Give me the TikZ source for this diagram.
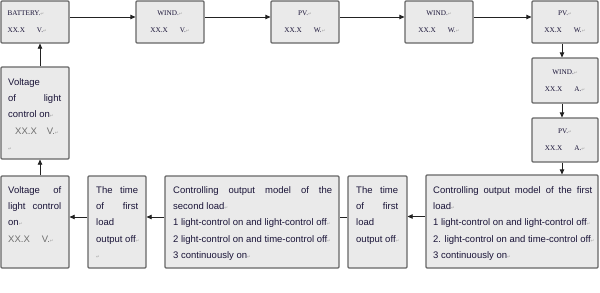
\documentclass[tikz,border=0pt]{standalone}
\usepackage{fontspec}
\setmainfont{Liberation Serif}
\newfontfamily\arialf{Liberation Sans}
\newfontfamily\djv{DejaVu Sans}
\usetikzlibrary{arrows.meta}
\definecolor{boxfill}{HTML}{EAEAEA}
\definecolor{boxline}{HTML}{666666}
\definecolor{txt}{HTML}{1A1438}
\definecolor{gtxt}{HTML}{6E6E6E}
\definecolor{arrc}{HTML}{222222}
\newcommand\retm{{\color{gray!70}\djv\fontsize{4.5}{5}\selectfont ↵}}
\newcommand\jl[2]{\makebox[#1][s]{#2}}
\begin{document}
\begin{tikzpicture}[x=1pt,y=-1pt,
  box/.style={draw=boxline, fill=boxfill, line width=1.2pt, rounded corners=1pt, inner sep=0pt},
  arr/.style={draw=arrc, line width=0.7pt, -{Triangle[length=5pt,width=4.5pt]}},
  lnk/.style={draw=arrc, line width=0.7pt},
  ttxt/.style={font=\fontsize{7.2}{17}\selectfont, text=txt, align=center, inner sep=0pt},
  stxt/.style={font=\arialf\fontsize{9.5}{16.4}\selectfont, text=txt, align=left, inner sep=0pt, anchor=north west}]
\useasboundingbox (0,0) rectangle (600,292);
% boxes
\node[box, minimum width=68pt, minimum height=42pt] (bat) at (35,22) {};
\node[box, minimum width=68pt, minimum height=42pt] (wind1) at (170,22) {};
\node[box, minimum width=68pt, minimum height=42pt] (pv1) at (305,22) {};
\node[box, minimum width=68pt, minimum height=42pt] (wind2) at (439,22) {};
\node[box, minimum width=66pt, minimum height=42pt] (pv2) at (565,22) {};
\node[box, minimum width=66pt, minimum height=45pt] (wind3) at (565,80.5) {};
\node[box, minimum width=66pt, minimum height=44pt] (pv3) at (565,140) {};
\node[box, minimum width=172pt, minimum height=93pt] (load1) at (512,221.5) {};
\node[box, minimum width=59pt, minimum height=92pt] (time1) at (377.5,222) {};
\node[box, minimum width=174pt, minimum height=92pt] (load2) at (252,222) {};
\node[box, minimum width=58pt, minimum height=92pt] (time2) at (117,222) {};
\node[box, minimum width=68pt, minimum height=92pt] (volt2) at (35,222) {};
\node[box, minimum width=68pt, minimum height=92pt] (volt1) at (35,113) {};
% top texts
\node[ttxt, align=left, anchor=west] (tbat) at ([xshift=7pt]bat.west) {BATTERY.\retm\\XX.X\hspace{12pt}V.\retm};
\node[ttxt] (twind1) at (wind1.center) {WIND.\retm\\XX.X\hspace{12pt}V.\retm};
\node[ttxt] (tpv1) at (pv1.center) {PV.\retm\\XX.X\hspace{12pt}W.\retm};
\node[ttxt] (twind2) at (wind2.center) {WIND.\retm\\XX.X\hspace{12pt}W.\retm};
\node[ttxt] (tpv2) at (pv2.center) {PV.\retm\\XX.X\hspace{12pt}W.\retm};
\node[ttxt] (twind3) at (wind3.center) {WIND.\retm\\XX.X\hspace{12pt}A.\retm};
\node[ttxt] (tpv3) at (pv3.center) {PV.\retm\\XX.X\hspace{12pt}A.\retm};
% lower texts
\node[stxt] (tload1) at (433,186) {\jl{159pt}{Controlling output model of the first}\\load\retm\\1 light-control on and light-control off\retm\\2. light-control on and time-control off\retm\\3 continuously on\retm};
\node[stxt] (ttime1) at (356,186) {\jl{42pt}{The time}\\\jl{42pt}{of first}\\load\\output off\retm};
\node[stxt] (tload2) at (173,186) {\jl{159pt}{Controlling output model of the}\\second load\retm\\1 light-control on and light-control off\retm\\2 light-control on and time-control off\retm\\3 continuously on\retm};
\node[stxt] (ttime2) at (96,186) {\jl{42pt}{The time}\\\jl{42pt}{of first}\\load\\output off\retm\\\retm};
\node[stxt] (tvolt2) at (8,186) {\jl{53pt}{Voltage of}\\\jl{53pt}{light control}\\on\retm\\{\color{gtxt}XX.X\hspace{12pt}V.\retm}};
\node[stxt] (tvolt1) at (8,78) {Voltage\\\jl{53pt}{of light}\\control on\retm\\\hspace{7pt}{\color{gtxt}XX.X\hspace{10pt}V.\retm}\\\retm};
% connectors
\draw[arr] ([yshift=5pt]bat.east) -- ([yshift=5pt]wind1.west);
\draw[arr] ([yshift=5pt]wind1.east) -- ([yshift=5pt]pv1.west);
\draw[arr] ([yshift=5pt]pv1.east) -- ([yshift=5pt]wind2.west);
\draw[arr] ([yshift=5pt]wind2.east) -- ([yshift=5pt]pv2.west);
\draw[arr] ([xshift=-3pt]pv2.south) -- ([xshift=-3pt]wind3.north);
\draw[arr] ([xshift=-3pt]wind3.south) -- ([xshift=-3pt]pv3.north);
\draw[arr] ([xshift=-3pt]pv3.south) -- ([xshift=-3pt]pv3.south |- load1.north);
\draw[arr] ([yshift=5pt]load1.west) -- ([yshift=5pt]load1.west -| time1.east);
\draw[lnk] ([yshift=5pt]time1.west) -- ([yshift=5pt]load2.east);
\draw[arr] ([yshift=5pt]load2.west) -- ([yshift=5pt]time2.east);
\draw[arr] ([yshift=5pt]time2.west) -- ([yshift=5pt]volt2.east);
\draw[arr] ([xshift=5pt]volt2.north) -- ([xshift=5pt]volt1.south);
\draw[arr] ([xshift=5pt]volt1.north) -- ([xshift=5pt]bat.south);
\end{tikzpicture}
\end{document}
